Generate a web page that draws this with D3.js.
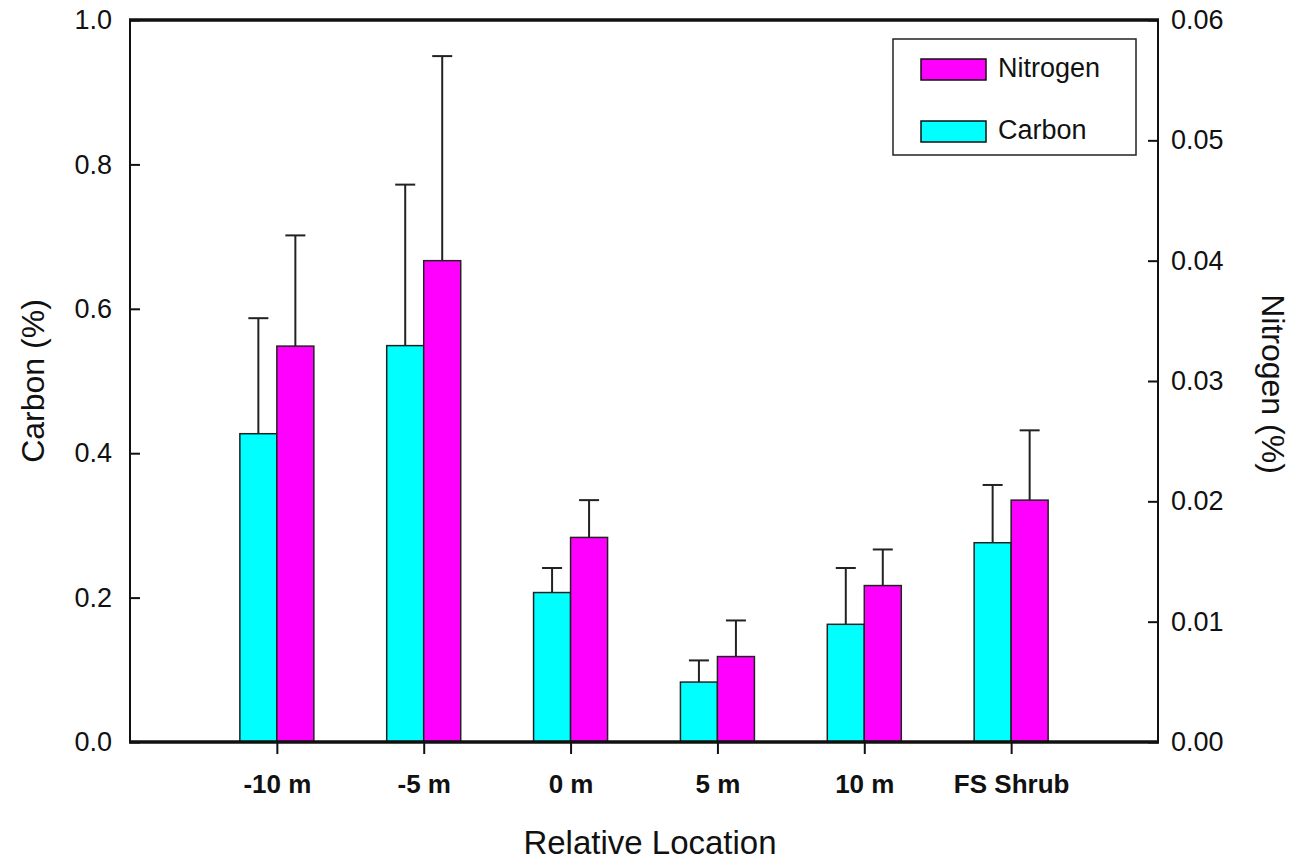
<!DOCTYPE html>
<html>
<head>
<meta charset="utf-8">
<script src="https://cdn.jsdelivr.net/npm/d3@7"></script>
<style>
  body { margin: 0; background: #fff; }
  text { font-family: "Liberation Sans", Arial, sans-serif; fill: #111; }
</style>
</head>
<body>
<div id="chart"></div>
<script>
// data
const locations = ["-10 m", "-5 m", "0 m", "5 m", "10 m", "FS Shrub"];
const carbon      = [0.427, 0.549, 0.207, 0.083, 0.163, 0.276];
const carbonErr   = [0.160, 0.223, 0.034, 0.030, 0.078, 0.080];
const nitrogen    = [0.0329, 0.0400, 0.0170, 0.0071, 0.0130, 0.0201];
const nitrogenErr = [0.0092, 0.0170, 0.0031, 0.0030, 0.0030, 0.0058];
const carbonTicks = [0, 0.2, 0.4, 0.6, 0.8, 1.0];
const nitrogenTicks = [0, 0.01, 0.02, 0.03, 0.04, 0.05, 0.06];

let W = 1304, H = 862;
let m = {top: 20, right: 146, bottom: 120, left: 130};

let svg = d3.select("#chart").append("svg")
    .attr("width", W)
    .attr("height", H);

let x = d3.scalePoint()
    .domain(locations)
    .range([m.left, W - m.right])
    .padding(1);

let yC = d3.scaleLinear().domain([0, 1]).range([H - m.bottom, m.top]);
let yN = d3.scaleLinear().domain([0, 0.06]).range([H - m.bottom, m.top]);

let barW = 37;

// bars + error bars
let series = [
    {vals: carbon, err: carbonErr, y: yC, color: "#00ffff", off: -barW},
    {vals: nitrogen, err: nitrogenErr, y: yN, color: "#ff00ff", off: 0}
];

series.forEach(s => {
    let g = svg.append("g");
    // error bar (upper only), drawn under the bar
    g.selectAll("line.err")
        .data(locations)
        .enter()
        .append("line")
        .attr("x1", (d) => x(d) + s.off + barW / 2)
        .attr("x2", (d) => x(d) + s.off + barW / 2)
        .attr("y1", (d, i) => s.y(s.vals[i]))
        .attr("y2", (d, i) => s.y(s.vals[i] + s.err[i]))
        .attr("stroke", "#222")
        .attr("stroke-width", 2);
    g.selectAll("line.cap")
        .data(locations)
        .enter()
        .append("line")
        .attr("x1", (d) => x(d) + s.off + barW / 2 - 10)
        .attr("x2", (d) => x(d) + s.off + barW / 2 + 10)
        .attr("y1", (d, i) => s.y(s.vals[i] + s.err[i]))
        .attr("y2", (d, i) => s.y(s.vals[i] + s.err[i]))
        .attr("stroke", "#222")
        .attr("stroke-width", 2);
    g.selectAll("rect")
        .data(locations)
        .enter()
        .append("rect")
        .attr("x", (d) => x(d) + s.off)
        .attr("y", (d, i) => s.y(s.vals[i]))
        .attr("width", barW)
        .attr("height", (d, i) => s.y(0) - s.y(s.vals[i]))
        .attr("fill", s.color)
        .attr("stroke", "#222")
        .attr("stroke-width", 1.5);
});

// left axis
const leftAxis = svg.append("g")
    .attr("transform", "translate(" + m.left + ",0)")
    .call(d3.axisRight(yC).tickValues(carbonTicks).tickFormat(d3.format(".1f")).tickSize(10));
leftAxis.selectAll("text").attr("text-anchor", "end").attr("x", -18).style("font-size", "27px");

// right axis
const rightAxis = svg.append("g")
    .attr("transform", "translate(" + (W - m.right) + ",0)")
    .call(d3.axisLeft(yN).tickValues(nitrogenTicks).tickFormat(d3.format(".2f")).tickSize(10));
rightAxis.selectAll("text").attr("text-anchor", "start").attr("x", 13).style("font-size", "27px");

// bottom axis
const bottomAxis = svg.append("g")
    .attr("transform", "translate(0," + (H - m.bottom) + ")")
    .call(d3.axisBottom(x).tickSize(12).tickPadding(21));
bottomAxis.selectAll("text").style("font-size", "26px").style("font-weight", "bold");

[leftAxis, rightAxis, bottomAxis].forEach(a => {
    a.selectAll("text").style("font-family", "'Liberation Sans', Arial, sans-serif").attr("fill", "#111");
    a.selectAll("line").attr("stroke", "#111").attr("stroke-width", 2);
    a.select(".domain").remove();
});

// frame
svg.append("line").attr("x1", m.left).attr("x2", m.left).attr("y1", m.top).attr("y2", H - m.bottom)
    .attr("stroke", "#111").attr("stroke-width", 2);
svg.append("line").attr("x1", W - m.right).attr("x2", W - m.right).attr("y1", m.top).attr("y2", H - m.bottom)
    .attr("stroke", "#111").attr("stroke-width", 2);
svg.append("line").attr("x1", m.left - 1).attr("x2", W - m.right + 1).attr("y1", m.top).attr("y2", m.top)
    .attr("stroke", "#111").attr("stroke-width", 3.5);
svg.append("line").attr("x1", m.left - 1).attr("x2", W - m.right + 1).attr("y1", H - m.bottom).attr("y2", H - m.bottom)
    .attr("stroke", "#111").attr("stroke-width", 3.5);

// axis titles
svg.append("text")
    .attr("transform", "translate(44," + ((m.top + H - m.bottom) / 2) + ") rotate(-90)")
    .attr("text-anchor", "middle")
    .style("font-size", "32px")
    .text("Carbon (%)");

svg.append("text")
    .attr("transform", "translate(1262," + ((m.top + H - m.bottom) / 2 + 3) + ") rotate(90)")
    .attr("text-anchor", "middle")
    .style("font-size", "32px")
    .text("Nitrogen (%)");

svg.append("text")
    .attr("x", (m.left + W - m.right) / 2 + 6)
    .attr("y", 854)
    .attr("text-anchor", "middle")
    .style("font-size", "33px")
    .text("Relative Location");

// legend
const legend = svg.append("g").attr("transform", "translate(893,39)");
legend.append("rect")
    .attr("width", 243).attr("height", 116)
    .attr("fill", "#fff").attr("stroke", "#222").attr("stroke-width", 1.5);

let legendItems = [{label: "Nitrogen", color: "#ff00ff"}, {label: "Carbon", color: "#00ffff"}];
legend.selectAll("rect.sw")
    .data(legendItems)
    .enter()
    .append("rect")
    .attr("class", "sw")
    .attr("x", 28)
    .attr("y", (d, i) => 20 + i * 62)
    .attr("width", 65)
    .attr("height", 21)
    .attr("fill", d => d.color)
    .attr("stroke", "#111")
    .attr("stroke-width", 1.5);
legend.selectAll("text")
    .data(legendItems)
    .enter()
    .append("text")
    .attr("x", 105)
    .attr("y", (d, i) => 38 + i * 62)
    .style("font-size", "27px")
    .text(d => d.label);
</script>
</body>
</html>
